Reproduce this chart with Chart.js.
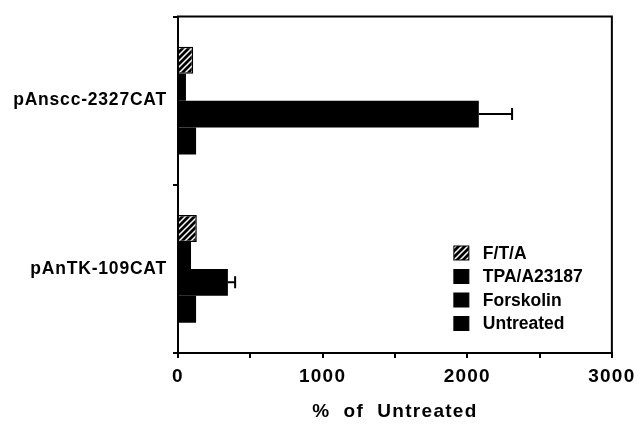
<!DOCTYPE html>
<html>
<head>
<meta charset="utf-8">
<script src="https://cdn.jsdelivr.net/npm/chart.js@4/dist/chart.umd.min.js"></script>
<style>
  html, body { margin: 0; padding: 0; background: #fff; }
  #wrap { width: 640px; height: 427px; }
</style>
</head>
<body>
<div id="wrap"><canvas id="catChart" width="640" height="427"></canvas></div>
<script>
// values
var categories = ['pAnscc-2327CAT', 'pAnTK-109CAT'];
var seriesNames = ['F/T/A', 'TPA/A23187', 'Forskolin', 'Untreated'];
var ftaValues = [105, 130];
var tpaValues = [55, 90];
var forskolinValues = [2080, 345];
var forskolinErrors = [230, 50];
var untreatedValues = [125, 125];
var xTickLabels = [0, 1000, 2000, 3000];

var FONT = "'Liberation Sans', Arial, Helvetica, sans-serif";

function makeHatch() {
    var c = document.createElement('canvas');
    c.width = 6; c.height = 6;
    var g = c.getContext('2d');
    g.fillStyle = '#000';
    g.fillRect(0, 0, 6, 6);
    g.strokeStyle = '#fff';
    g.lineWidth = 1.5;
    g.beginPath();
    g.moveTo(0, 6); g.lineTo(6, 0);
    g.moveTo(-3, 3); g.lineTo(3, -3);
    g.moveTo(3, 9); g.lineTo(9, 3);
    g.stroke();
    return g.createPattern(c, 'repeat');
}
var hatch = makeHatch();

// the scanned lettering is wide, so space the axis text out a bit
var spacedText = {
    id: 'spacedText',
    beforeDraw: function(chart) {
        Object.values(chart.scales).forEach(function(s) {
            if (s._spaced) return;
            var sp = s.id === 'x' ? '1.2px' : '0.8px';
            var drawLabels = s.drawLabels.bind(s);
            var drawTitle = s.drawTitle.bind(s);
            s.drawLabels = function(area) {
                chart.ctx.letterSpacing = sp;
                drawLabels(area);
                chart.ctx.letterSpacing = '0px';
            };
            s.drawTitle = function() {
                chart.ctx.letterSpacing = '1.3px';
                drawTitle();
                chart.ctx.letterSpacing = '0px';
            };
            s._spaced = true;
        });
    }
};

// error bars for the forskolin series
var errorBars = {
    id: 'errorBars',
    afterDatasetsDraw: function(chart) {
        var ctx = chart.ctx;
        var xs = chart.scales.x;
        var meta = chart.getDatasetMeta(2);
        ctx.save();
        ctx.strokeStyle = '#000';
        ctx.lineWidth = 2;
        meta.data.forEach(function(bar, i) {
            var x0 = xs.getPixelForValue(forskolinValues[i]);
            var x1 = xs.getPixelForValue(forskolinValues[i] + forskolinErrors[i]);
            ctx.beginPath();
            ctx.moveTo(x0, bar.y);
            ctx.lineTo(x1, bar.y);
            ctx.moveTo(x1, bar.y - 6);
            ctx.lineTo(x1, bar.y + 6);
            ctx.stroke();
        });
        ctx.restore();
    }
};

// frame round the plot + legend inside it
var frameAndLegend = {
    id: 'frameAndLegend',
    afterDraw: function(chart) {
        var ctx = chart.ctx;
        var a = chart.chartArea;
        ctx.save();
        ctx.strokeStyle = '#000';
        ctx.lineWidth = 2;
        ctx.strokeRect(a.left, a.top, a.right - a.left, a.bottom - a.top);

        var lx = a.right - 158, ly = a.bottom - 100;
        ctx.font = 'bold 17.5px ' + FONT;
        ctx.textBaseline = 'middle';
        chart.data.datasets.forEach(function(ds, i) {
            var y = ly + i * 23.5;
            ctx.fillStyle = ds.backgroundColor;
            ctx.fillRect(lx, y - 7, 15, 14);
            ctx.lineWidth = 1;
            ctx.strokeRect(lx, y - 7, 15, 14);
            ctx.fillStyle = '#000';
            ctx.fillText(ds.label, lx + 29, y + 1);
        });
        ctx.restore();
    }
};

var ctx = document.getElementById('catChart').getContext('2d');
var chart = new Chart(ctx, {
    type: 'bar',
    data: {
        labels: categories,
        datasets: [
            { label: seriesNames[0], data: ftaValues, backgroundColor: hatch, borderColor: '#000', borderWidth: 1.5 },
            { label: seriesNames[1], data: tpaValues, backgroundColor: '#000' },
            { label: seriesNames[2], data: forskolinValues, backgroundColor: '#000' },
            { label: seriesNames[3], data: untreatedValues, backgroundColor: '#000' }
        ]
    },
    options: {
        indexAxis: 'y',
        responsive: false,
        animation: false,
        layout: { padding: { top: 13, right: 26, left: 0, bottom: 0 } },
        datasets: { bar: { categoryPercentage: 0.64, barPercentage: 1.0 } },
        plugins: {
            legend: { display: false },
            tooltip: { enabled: false }
        },
        scales: {
            x: {
                min: 0,
                max: 3000,
                border: { color: '#000', width: 2 },
                grid: { drawOnChartArea: false, color: '#000', tickLength: 5, lineWidth: 2 },
                ticks: {
                    stepSize: 500,
                    color: '#000',
                    padding: 7,
                    maxRotation: 0,
                    font: { family: FONT, size: 19, weight: 'bold' },
                    callback: function(value) {
                        return xTickLabels.indexOf(value) >= 0 ? String(value) : '';
                    }
                },
                title: {
                    display: true,
                    text: '%  of  Untreated',
                    color: '#000',
                    padding: { top: 19 },
                    font: { family: FONT, size: 19, weight: 'bold' }
                },
                afterFit: function(scale) { scale.height = 74; }
            },
            y: {
                border: { color: '#000', width: 2 },
                grid: { drawOnChartArea: false, color: '#000', tickLength: 5, lineWidth: 2 },
                ticks: {
                    color: '#000',
                    padding: 6,
                    font: { family: FONT, size: 17.5, weight: 'bold' }
                },
                afterFit: function(scale) { scale.width = 178; }
            }
        }
    },
    plugins: [spacedText, errorBars, frameAndLegend]
});
</script>
</body>
</html>
